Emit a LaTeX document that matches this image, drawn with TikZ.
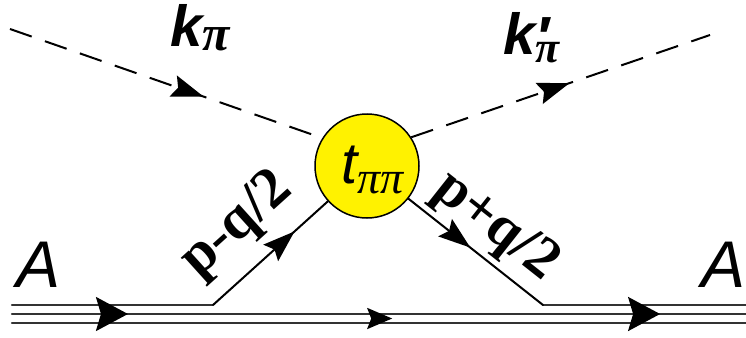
\documentclass[tikz,border=0pt]{standalone}
\usepackage{fontspec}
\setmainfont{Liberation Sans}
\newfontfamily\tnr{Liberation Serif}
\usetikzlibrary{arrows.meta, decorations.markings}

\begin{document}
\begin{tikzpicture}[
    x=1pt, y=-1pt,
    blob/.style={
        circle, draw=black, line width=1.5pt, fill=yellow,
        minimum size=104pt, inner sep=0pt
    },
    nucl/.style={line width=2.4pt, black!80, line cap=round},
    prop/.style={line width=2pt, line cap=round},
    pion/.style={line width=2pt, dash pattern=on 23pt off 14pt},
    midarr/.style={
        postaction={decorate},
        decoration={markings, mark=at position #1 with
            {\arrow{Stealth[length=32pt, width=22pt, inset=5pt, black]}}}
    },
    bigarr/.style={
        postaction={decorate},
        decoration={markings,
            mark=at position 0.158 with
                {\arrow{Stealth[length=32pt, width=34pt, inset=5pt, black]}},
            mark=at position 0.518 with
                {\pgftransformyshift{-4.5pt}%
                 \arrow{Stealth[length=25pt, width=21pt, inset=4pt, black]}},
            mark=at position 0.883 with
                {\arrow{Stealth[length=32pt, width=34pt, inset=5pt, black]}}}
    },
    mom/.style={font=\fontsize{58}{58}\selectfont\tnr\bfseries, inner sep=0pt},
    letter/.style={font=\fontsize{66}{66}\selectfont\itshape,
        inner sep=0pt, anchor=base west},
    kname/.style={font=\fontsize{58}{58}\selectfont\bfseries\itshape,
        inner sep=0pt, anchor=base west}
]
\useasboundingbox (0,0) rectangle (746,337);

% ===================================================================
% POINTS
% ===================================================================
\node[blob] (t) at (367,166) {};
\coordinate (inA1) at (12,305);
\coordinate (inA2) at (12,314);
\coordinate (inA3) at (12,323);
\coordinate (outA1) at (746,305);
\coordinate (outA2) at (746,314);
\coordinate (outA3) at (746,323);
\coordinate (v1) at (213,305);
\coordinate (v2) at (543,305);
\coordinate (kin) at (10,29);
\coordinate (kout) at (710,35);

% ===================================================================
% NUCLEUS LINES
% ===================================================================
\draw[nucl] (inA1) -- (v1);
\draw[nucl] (v2) -- (outA1);
\draw[nucl] (inA3) -- (outA3);
\draw[nucl, bigarr] (inA2) -- (outA2);

% nucleon legs
\draw[prop, midarr=0.71] (v1) -- (t)
    node[mom, pos=0.46, sloped, above=16pt] {p-q/2};
\draw[prop, midarr=0.46] (t) -- (v2)
    node[mom, pos=0.5, sloped, above=5pt] {p+q/2};

% ===================================================================
% PION LINES
% ===================================================================
\draw[pion, midarr=0.62] (kin) -- (t.148);
\draw[pion, midarr=0.53] (t.33) -- (kout);

% ===================================================================
% LABELS
% ===================================================================
\node[letter] (Ain) at (16,287) {A};
\node[letter] (Aout) at (701,287) {A};
\node[kname] (kpi) at (170,46)
    {k\raisebox{-5pt}{\fontsize{50}{50}\selectfont\tnr\itshape π}};
\node[kname] (kpip) at (503,55)
    {k\rlap{\raisebox{-2pt}{′}}\raisebox{-8pt}{\fontsize{44}{44}\selectfont\tnr\itshape π}};
\node[kname, font=\fontsize{58}{58}\selectfont\itshape] (tpp) at (341,183)
    {t\raisebox{-10pt}{\fontsize{46}{46}\selectfont\tnr\itshape ππ}};

\end{tikzpicture}
\end{document}
